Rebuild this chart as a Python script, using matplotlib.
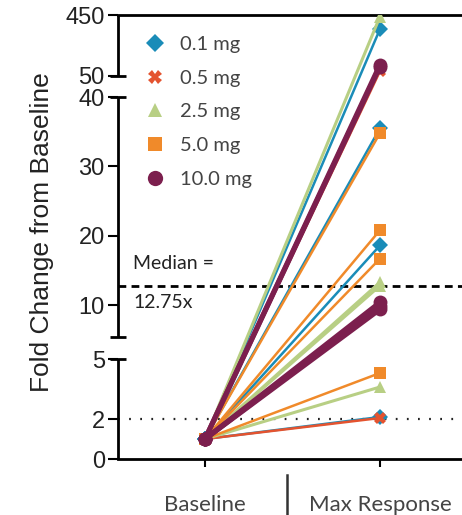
import numpy as np
import matplotlib
matplotlib.use("Agg")
import matplotlib.pyplot as plt
from matplotlib.lines import Line2D

# ---- data ----
doses = ["0.1 mg", "0.5 mg", "2.5 mg", "5.0 mg", "10.0 mg"]
baseline_value = 1.0
max_01 = [358, 35.5, 18.6, 2.1]
max_05 = [82, 2.05]
max_25 = [440, 13.3, 12.8, 3.6]
max_50 = [34.8, 20.8, 16.7, 4.3]
max_100 = [125, 112, 10.4, 9.8, 9.4]
series = [max_01, max_05, max_25, max_50, max_100]
x_labels = ["Baseline", "Max Response"]
median_value = 12.75
threshold_value = 2
y_ticks = [0, 2, 5, 10, 20, 30, 40, 50, 450]

# ---- style ----
colors = ["#1a8cb8", "#e4532f", "#b8cf84", "#f08a2a", "#7c1f4e"]
markers = ["D", "X", "^", "s", "o"]
msizes = [8, 9, 9, 9, 10]
leg_msizes = [9, 10, 10, 10, 11]
lws = [1.8, 1.8, 2.2, 1.8, 3.6]

# broken axis: data -> pixel-height mapping
seg_data = [0, 5, 5.4, 40, 50, 450]
seg_pix = [0, 100, 122, 362, 383, 444]

def fwd(y):
    return np.interp(np.asarray(y, dtype=float), seg_data, seg_pix)

def inv(h):
    return np.interp(np.asarray(h, dtype=float), seg_pix, seg_data)

W, H = 462, 515
fig = plt.figure(figsize=(W / 100, H / 100), dpi=100)
ax = fig.add_axes([118 / W, (H - 459) / H, (W - 118) / W, 444 / H])
ax.set_yscale("function", functions=(fwd, inv))
ax.set_ylim(0, 450)
ax.set_xlim((118 - 205) / 175, (462 - 205) / 175)

for vals, c, m, ms, lw in zip(series, colors, markers, msizes, lws):
    for v in vals:
        ax.plot([0, 1], [baseline_value, v], color=c, lw=lw, marker=m,
                ms=ms, markeredgewidth=0, solid_capstyle="round", zorder=3)

# reference lines
ax.axhline(median_value, color="black", lw=2.0, ls=(0, (2.8, 1.9)), zorder=2)
ax.axhline(threshold_value, color="#222222", lw=1.6, ls=(0, (0.8, 4.2)), zorder=2)

tf = "Lato"
ax.text(-0.41, 16.0, "Median =", fontsize=14, family=tf, color="#222222",
        va="center", ha="left")
ax.text(-0.41, 10.4, "12.75x", fontsize=14, family=tf, color="#222222",
        va="center", ha="left")

# spines
ax.spines["right"].set_visible(False)
ax.spines["left"].set_visible(False)
ax.spines["top"].set_linewidth(2.0)
ax.spines["bottom"].set_linewidth(2.0)
yt = ax.get_yaxis_transform()
for a, b in [(0, 5), (5.4, 40), (50, 450)]:
    ax.plot([0, 0], [a, b], transform=yt, color="black", lw=2.0,
            clip_on=False, solid_capstyle="butt", zorder=5)
cap = 8 / (W - 118)
for yc in [5, 5.4, 40, 50]:
    ax.plot([-cap, cap], [yc, yc], transform=yt, color="black", lw=2.0,
            clip_on=False, solid_capstyle="butt", zorder=5)

ax.set_yticks(y_ticks)
ax.set_yticklabels([str(t) for t in y_ticks])
ax.tick_params(axis="y", direction="out", length=7.5, width=1.5, pad=2,
               labelsize=17, colors="black")
for lab in ax.get_yticklabels():
    lab.set_family("Liberation Sans")
    lab.set_color("#222222")

ax.set_xticks([0, 1])
ax.set_xticklabels(x_labels)
ax.tick_params(axis="x", direction="out", length=6, width=1.5, pad=20,
               labelsize=16)
for lab in ax.get_xticklabels():
    lab.set_family(tf)
    lab.set_color("#444444")

# separator between categories
xt = ax.get_xaxis_transform()
ax.plot([0.47, 0.47], [(459 - 475) / 444, (459 - 520) / 444], transform=xt,
        color="#333333", lw=1.8, clip_on=False)

ax.set_ylabel("Fold Change from Baseline", fontsize=19,
              family="Liberation Sans", color="#222222")
ax.yaxis.set_label_coords(-(118 - 42) / (W - 118), 0.512)
ax.yaxis.label.set_va("center")

# legend
handles = [Line2D([], [], ls="none", marker=m, color=c, ms=ms, markeredgewidth=0)
           for m, c, ms in zip(markers, colors, leg_msizes)]
leg = ax.legend(handles, doses, loc="upper left",
                bbox_to_anchor=(135 / W, 1 - 26 / H), bbox_transform=fig.transFigure,
                frameon=False, handlelength=1.0, handletextpad=0.75,
                labelspacing=0.82, borderpad=0, prop={"family": tf, "size": 14.5})
for t in leg.get_texts():
    t.set_color("#444444")

fig.savefig("out.png", dpi=100)
